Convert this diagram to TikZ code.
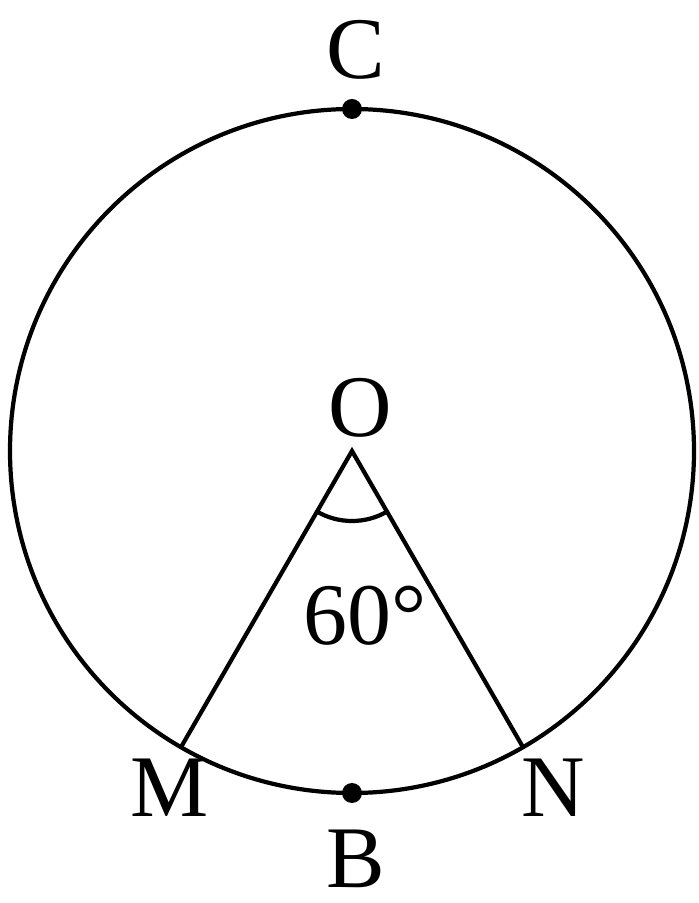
\documentclass[tikz,border=0pt]{standalone}
\usepackage{fontspec}
\setmainfont{Liberation Serif}
\usepackage{tikz}
\usetikzlibrary{positioning, calc}

\tikzset{
  lbl/.style={font=\fontsize{25}{29}\selectfont, inner sep=0pt},
  dot/.style={circle, fill=black, inner sep=0pt, minimum size=0.2cm}
}

\begin{document}
\begin{tikzpicture}[line width=1.2pt]
    \useasboundingbox (0,0) rectangle (6.98,9.03);
    \coordinate (O) at (3.52,4.52);
    \draw (O) circle (3.42);
    \coordinate (M) at ($(O)+(240:3.42)$);
    \coordinate (N) at ($(O)+(300:3.42)$);
    \node[dot] (c) at ($(O)+(90:3.42)$) {};
    \node[dot] (b) at ($(O)+(270:3.42)$) {};
    % sector sides and angle mark
    \draw (M) -- (O) -- (N);
    \draw ([shift=(240:0.7)]O) arc (240:300:0.7);
    \node[lbl] (lc) at (3.56,8.53) {C};
    \node[lbl] (lo) at (3.60,4.95) {O};
    \node[lbl] (lm) at (1.70,1.15) {M};
    \node[lbl] (ln) at (5.53,1.15) {N};
    \node[lbl] (lb) at (3.56,0.44) {B};
    \node[lbl] (ang) at (3.65,2.87) {60°};
  \end{tikzpicture}
\end{document}
